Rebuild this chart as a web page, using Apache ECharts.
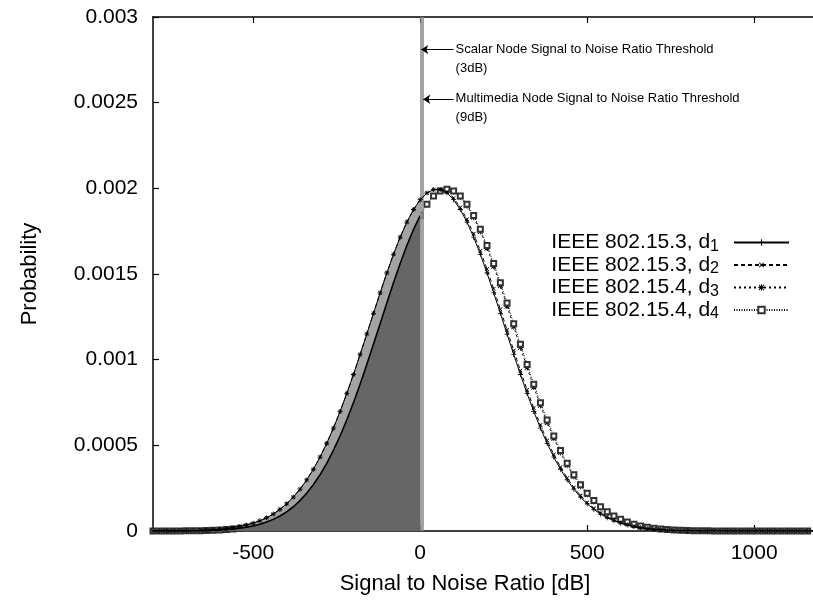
<!DOCTYPE html>
<html><head><meta charset="utf-8">
<script src="https://cdn.jsdelivr.net/npm/echarts@6/dist/echarts.min.js"></script>
<style>html,body{margin:0;padding:0;background:#fff}#c{width:813px;height:601px}</style>
</head><body><div id="c"></div>
<script>
// ---- data ----
const seriesNames = ['IEEE 802.15.3, d1', 'IEEE 802.15.3, d2', 'IEEE 802.15.4, d3', 'IEEE 802.15.4, d4'];
const snr = [-800,-780,-760,-740,-720,-700,-680,-660,-640,-620,
 -600,-580,-560,-540,-520,-500,-480,-460,-440,-420,
 -400,-380,-360,-340,-320,-300,-280,-260,-240,-220,
 -200,-180,-160,-140,-120,-100,-80,-60,-40,-20,
 0,20,40,60,80,100,120,140,160,180,
 200,220,240,260,280,300,320,340,360,380,
 400,420,440,460,480,500,520,540,560,580,
 600,620,640,660,680,700,720,740,760,780,
 800,820,840,860,880,900,920,940,960,980,
 1000,1020,1040,1060,1080,1100,1120,1140,1160,1180];
const d1 = [0.0000002,0.0000004,0.0000005,0.0000008,0.0000012,0.0000018,0.0000026,0.0000037,0.0000052,0.0000073,
 0.0000101,0.000014,0.0000191,0.0000257,0.0000344,0.0000455,0.0000596,0.0000773,0.0000992,0.0001261,
 0.0001587,0.0001978,0.000244,0.000298,0.0003604,0.0004315,0.0005114,0.0006001,0.0006973,0.000802,
 0.0009134,0.0010298,0.0011496,0.0012705,0.0013901,0.0015059,0.0016151,0.001715,0.0018029,0.0018765,
 0.0019336,0.0019727,0.0019925,0.0019925,0.0019727,0.0019336,0.0018765,0.0018029,0.001715,0.0016151,
 0.0015059,0.0013901,0.0012705,0.0011496,0.0010298,0.0009134,0.000802,0.0006973,0.0006001,0.0005114,
 0.0004315,0.0003604,0.000298,0.000244,0.0001978,0.0001587,0.0001261,0.0000992,0.0000773,0.0000596,
 0.0000455,0.0000344,0.0000257,0.0000191,0.000014,0.0000101,0.0000073,0.0000052,0.0000037,0.0000026,
 0.0000018,0.0000012,0.0000008,0.0000005,0.0000004,0.0000002,0.0000001,0.0000001,0,0,
 0,0,0,0,0,0,0,0,0,0];
const d2 = [0.0000002,0.0000004,0.0000005,0.0000008,0.0000012,0.0000018,0.0000026,0.0000037,0.0000052,0.0000073,
 0.0000101,0.000014,0.0000191,0.0000257,0.0000344,0.0000455,0.0000596,0.0000773,0.0000992,0.0001261,
 0.0001587,0.0001978,0.000244,0.000298,0.0003604,0.0004315,0.0005114,0.0006001,0.0006973,0.000802,
 0.0009134,0.0010298,0.0011496,0.0012705,0.0013901,0.0015059,0.0016151,0.001715,0.0018029,0.0018765,
 0.0019336,0.0019727,0.0019925,0.0019925,0.0019786,0.0019433,0.0018896,0.0018191,0.0017339,0.0016361,
 0.0015285,0.0014137,0.0012946,0.0011737,0.0010535,0.0009362,0.0008237,0.0007175,0.0006187,0.0005283,
 0.0004466,0.0003737,0.0003096,0.000254,0.0002063,0.0001658,0.000132,0.0001041,0.0000812,0.0000628,
 0.000048,0.0000364,0.0000272,0.0000202,0.0000149,0.0000108,0.0000078,0.0000056,0.000004,0.0000028,
 0.000002,0.0000013,0.0000009,0.0000006,0.0000004,0.0000002,0.0000001,0.0000001,0,0,
 0,0,0,0,0,0,0,0,0,0];
const d3 = [0.0000001,0.0000002,0.0000003,0.0000004,0.0000007,0.000001,0.0000015,0.0000021,0.0000031,0.0000044,
 0.0000062,0.0000086,0.0000119,0.0000163,0.0000222,0.0000298,0.0000396,0.0000521,0.0000679,0.0000877,
 0.000112,0.0001416,0.0001774,0.00022,0.00027,0.0003281,0.0003948,0.0004703,0.0005547,0.0006477,
 0.0007487,0.000857,0.0009711,0.0010894,0.00121,0.0013306,0.0014487,0.0015615,0.0016664,0.0017606,
 0.0018416,0.0019073,0.0019555,0.001985,0.001995,0.001982,0.0019496,0.0018987,0.0018306,0.0017474,
 0.0016514,0.0015451,0.0014313,0.0013126,0.0011918,0.0010714,0.0009536,0.0008403,0.000733,0.0006331,
 0.0005414,0.0004583,0.0003841,0.0003187,0.0002619,0.0002131,0.0001715,0.0001367,0.000108,0.0000844,
 0.0000653,0.00005,0.000038,0.0000285,0.0000212,0.0000155,0.0000113,0.0000082,0.0000059,0.0000042,
 0.0000029,0.000002,0.0000014,0.0000009,0.0000006,0.0000004,0.0000003,0.0000002,0.0000001,0.0000001,
 0,0,0,0,0,0,0,0,0,0];
const d4 = [0.0000001,0.0000002,0.0000003,0.0000004,0.0000007,0.000001,0.0000015,0.0000021,0.0000031,0.0000044,
 0.0000062,0.0000086,0.0000119,0.0000163,0.0000222,0.0000298,0.0000396,0.0000521,0.0000679,0.0000877,
 0.000112,0.0001416,0.0001774,0.00022,0.00027,0.0003281,0.0003948,0.0004703,0.0005547,0.0006477,
 0.0007487,0.000857,0.0009711,0.0010894,0.00121,0.0013306,0.0014487,0.0015615,0.0016664,0.0017606,
 0.0018416,0.0019073,0.0019555,0.001985,0.001995,0.001985,0.0019555,0.0019073,0.0018416,0.0017606,
 0.0016664,0.0015615,0.0014487,0.0013306,0.00121,0.0010894,0.0009711,0.000857,0.0007487,0.0006477,
 0.0005547,0.0004703,0.0003948,0.0003281,0.00027,0.00022,0.0001774,0.0001416,0.000112,0.0000877,
 0.0000679,0.0000521,0.0000396,0.0000298,0.0000222,0.0000163,0.0000119,0.0000086,0.0000062,0.0000044,
 0.0000031,0.0000021,0.0000015,0.000001,0.0000007,0.0000004,0.0000003,0.0000002,0.0000001,0.0000001,
 0,0,0,0,0,0,0,0,0,0];
const xTicks = [-500, 0, 500, 1000];
const yTicks = [0, 0.0005, 0.001, 0.0015, 0.002, 0.0025, 0.003];
const thresholdSnr = [3, 9];
const thresholdText = [['Scalar Node Signal to Noise Ratio Threshold', '(3dB)'],
                       ['Multimedia Node Signal to Noise Ratio Threshold', '(9dB)']];
const arrowLevel = [0.00281, 0.00252];
const arrowStartSnr = 100;

// ---- chart ----
const FONT = '"Liberation Sans", Arial, Helvetica, sans-serif';
const plus = 'path://M4.2,0H5.8V4.2H10V5.8H5.8V10H4.2V5.8H0V4.2H4.2Z';
const star = 'path://M4.3,0H5.7V4.3H10V5.7H5.7V10H4.3V5.7H0V4.3H4.3Z M1.5,0.5L5,4L8.5,0.5L9.5,1.5L6,5L9.5,8.5L8.5,9.5L5,6L1.5,9.5L0.5,8.5L4,5L0.5,1.5Z';
const pairs = arr => snr.map((x, i) => [x, arr[i]]);
const left = arr => pairs(arr).filter(p => p[0] <= 0);

const chart = echarts.init(document.getElementById('c'), null, {renderer: 'canvas'});
const curve = (name, arr, symbol, size, dash, rotate, z) => ({
  name, type: 'line', data: pairs(arr), z,
  symbol, symbolSize: size, symbolRotate: rotate || 0, showSymbol: true,
  lineStyle: {color: '#000', width: 1, type: dash},
  itemStyle: {color: symbol === 'emptyRect' ? '#333' : '#000', borderColor: '#333', borderWidth: symbol === 'emptyRect' ? 0.8 : 0},
  emphasis: {disabled: true}, animation: false
});

const option = {
  animation: false,
  backgroundColor: '#fff',
  grid: {left: 153, top: 17, right: 0, bottom: 70},
  xAxis: [{
    type: 'value', min: -800, max: 1176, position: 'bottom',
    axisLine: {onZero: false, lineStyle: {color: '#000', width: 1.5}},
    axisTick: {inside: true, length: 6, customValues: xTicks, lineStyle: {color: '#000', width: 1.2}},
    axisLabel: {customValues: xTicks, color: '#000', fontFamily: FONT, fontSize: 21, margin: 12,
      formatter: v => String(v)},
    splitLine: {show: false},
    name: 'Signal to Noise Ratio [dB]', nameLocation: 'middle', nameGap: 42,
    nameTextStyle: {color: '#000', fontFamily: FONT, fontSize: 22, padding: [0, 36, 0, 0]}
  }, {
    type: 'value', min: -800, max: 1176, position: 'top',
    axisLine: {onZero: false, lineStyle: {color: '#000', width: 1.5}},
    axisTick: {inside: true, length: 6, customValues: xTicks, lineStyle: {color: '#000', width: 1.2}},
    axisLabel: {show: false}, splitLine: {show: false}
  }],
  yAxis: [{
    type: 'value', min: 0, max: 0.003, interval: 0.0005,
    axisLine: {show: true, onZero: false, lineStyle: {color: '#000', width: 1.5}},
    axisTick: {inside: true, length: 6, lineStyle: {color: '#000', width: 1.2}},
    axisLabel: {color: '#000', fontFamily: FONT, fontSize: 21, margin: 15,
      formatter: v => { const t = yTicks.find(u => Math.abs(u - v) < 1e-9); return t === undefined ? '' : String(t); }},
    splitLine: {show: false},
    name: 'Probability', nameLocation: 'middle', nameGap: 112, nameRotate: 90,
    nameTextStyle: {color: '#000', fontFamily: FONT, fontSize: 22}
  }],
  legend: {
    data: seriesNames, orient: 'vertical', right: 18, top: 227, align: 'right',
    itemWidth: 55, itemHeight: 8, itemGap: 0, selectedMode: false,
    formatter: n => '{t|' + n.slice(0, -1) + '}{s|' + n.slice(-1) + '}',
    textStyle: {color: '#000', fontFamily: FONT, fontSize: 21, padding: [0, 10, 0, 0],
      rich: {t: {fontSize: 21, lineHeight: 22, fontFamily: FONT, color: '#000'},
             s: {fontSize: 16, fontFamily: FONT, color: '#000', verticalAlign: 'bottom', padding: [8, 0, 0, 0]}}}
  },
  series: [
    curve(seriesNames[2], d3, star, 6, [2, 3], 0, 2),
    curve(seriesNames[3], d4, 'emptyRect', 5, [1, 1.5], 0, 2),
    {type: 'line', name: 'fillOuter', data: left(d1), symbol: 'none', z: 3, silent: true,
     lineStyle: {width: 0}, areaStyle: {color: '#a3a3a3', opacity: 1}},
    {type: 'line', name: 'fillInner', data: left(d4), symbol: 'none', z: 4, silent: true,
     lineStyle: {width: 1.6, color: '#000'}, areaStyle: {color: '#666666', opacity: 1}},
    curve(seriesNames[0], d1, plus, 5, 'solid', 0, 5),
    curve(seriesNames[1], d2, plus, 5, [4, 3], 45, 5),
    {type: 'line', name: 'thresholds', data: [], z: 6, silent: true,
     markLine: {silent: true, symbol: ['none', 'none'], label: {show: false},
       lineStyle: {color: '#8c8c8c', width: 1.6, type: 'solid'},
       data: thresholdSnr.map(t => ({xAxis: t}))}},
    {type: 'line', name: 'arrows', data: [], z: 7, silent: true,
     markLine: {silent: true, symbol: ['none', 'arrow'], symbolSize: 7, label: {show: false},
       lineStyle: {color: '#000', width: 1, type: 'solid'},
       data: thresholdSnr.map((t, k) => [{coord: [arrowStartSnr, arrowLevel[k]]}, {coord: [t, arrowLevel[k]]}])}}
  ]
};
chart.setOption(option);

// annotation texts placed next to the arrow start points
const gfx = [];
thresholdText.forEach((lines, k) => {
  const p = chart.convertToPixel({xAxisIndex: 0, yAxisIndex: 0}, [arrowStartSnr, arrowLevel[k]]);
  lines.forEach((s, j) => {
    gfx.push({type: 'text', left: p[0] + 2, top: p[1] - 7 + j * 19, z: 10, silent: true,
      style: {text: s, fill: '#000', font: '13px ' + FONT}});
  });
});
chart.setOption({graphic: gfx});
</script></body></html>
